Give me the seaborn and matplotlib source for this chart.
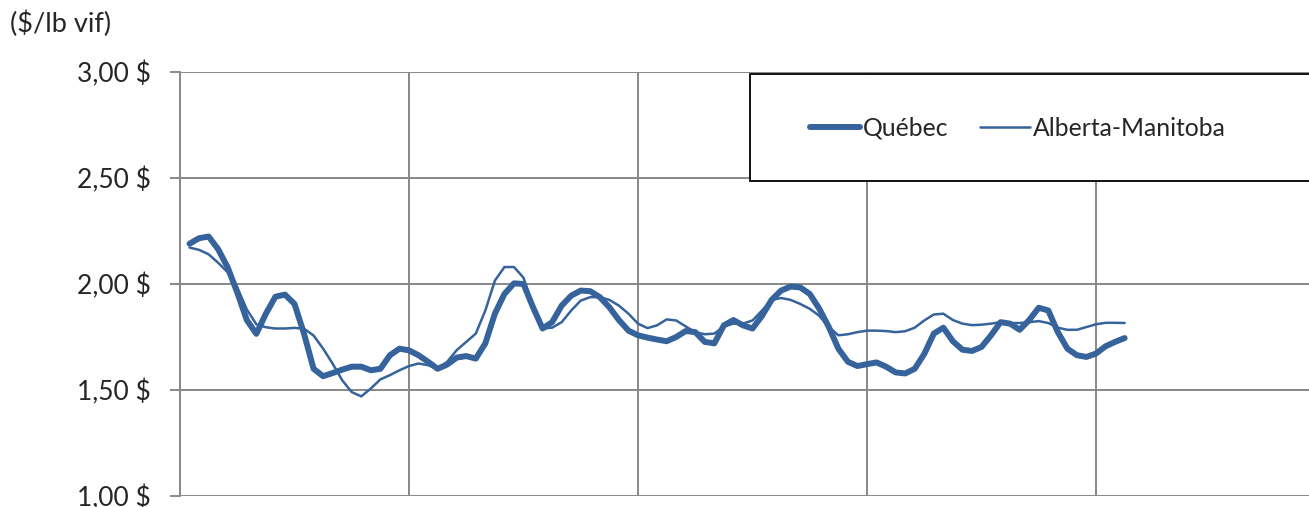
import numpy as np
import pandas as pd
import matplotlib
matplotlib.use("Agg")
import matplotlib.pyplot as plt
from matplotlib.ticker import FuncFormatter
from matplotlib.patches import Rectangle
import seaborn as sns

# positions in months (half-month steps), gridline every 12 months
mois = np.arange(0.5, 50, 0.5)

quebec = [
    2.190, 2.216, 2.224, 2.164, 2.078, 1.960, 1.830, 1.765, 1.860, 1.940,
    1.950, 1.906, 1.765, 1.600, 1.565, 1.580, 1.596, 1.610, 1.610, 1.593,
    1.600, 1.664, 1.695, 1.687, 1.664, 1.633, 1.600, 1.620, 1.653, 1.660,
    1.648, 1.720, 1.860, 1.953, 2.003, 2.000, 1.890, 1.790, 1.820, 1.898,
    1.945, 1.969, 1.966, 1.938, 1.890, 1.830, 1.780, 1.758, 1.747, 1.738,
    1.730, 1.750, 1.778, 1.773, 1.727, 1.720, 1.805, 1.830, 1.805, 1.790,
    1.850, 1.925, 1.969, 1.988, 1.984, 1.953, 1.883, 1.797, 1.695, 1.633,
    1.613, 1.622, 1.630, 1.610, 1.583, 1.578, 1.600, 1.670, 1.766, 1.794,
    1.730, 1.690, 1.684, 1.703, 1.758, 1.820, 1.813, 1.784, 1.830, 1.888,
    1.875, 1.773, 1.695, 1.664, 1.656, 1.672, 1.706, 1.727, 1.745,
]

alberta_manitoba = [
    2.172, 2.161, 2.140, 2.100, 2.055, 1.984, 1.880, 1.810, 1.796, 1.790,
    1.790, 1.793, 1.789, 1.757, 1.695, 1.624, 1.546, 1.490, 1.470, 1.507,
    1.550, 1.570, 1.593, 1.613, 1.625, 1.617, 1.600, 1.633, 1.688, 1.727,
    1.766, 1.875, 2.016, 2.080, 2.080, 2.030, 1.890, 1.790, 1.794, 1.820,
    1.875, 1.922, 1.938, 1.938, 1.925, 1.898, 1.860, 1.813, 1.792, 1.805,
    1.833, 1.828, 1.800, 1.773, 1.763, 1.766, 1.800, 1.813, 1.813, 1.828,
    1.875, 1.925, 1.934, 1.925, 1.906, 1.883, 1.850, 1.797, 1.758, 1.763,
    1.773, 1.780, 1.780, 1.778, 1.773, 1.777, 1.794, 1.828, 1.856, 1.860,
    1.830, 1.813, 1.806, 1.808, 1.813, 1.820, 1.816, 1.816, 1.820, 1.825,
    1.816, 1.794, 1.784, 1.784, 1.797, 1.810, 1.817, 1.817, 1.816,
]

y_ticks = [1.0, 1.5, 2.0, 2.5, 3.0]
x_grid = [0, 12, 24, 36, 48, 60]

sns.set_theme(style="white")
plt.rcParams['font.family'] = ['Lato', 'DejaVu Sans']

bleu = "#36639B"
gris = "#888888"

fig = plt.figure(figsize=(13.09, 5.07), dpi=100)
ax = fig.add_axes([180 / 1309, 11 / 507, 1145 / 1309, 424 / 507])

df = pd.DataFrame({"mois": mois, "Québec": quebec, "Alberta-Manitoba": alberta_manitoba})
sns.lineplot(data=df, x="mois", y="Québec", ax=ax, color=bleu, linewidth=4.3,
             label="Québec", solid_capstyle="round", solid_joinstyle="round")
sns.lineplot(data=df, x="mois", y="Alberta-Manitoba", ax=ax, color=bleu, linewidth=1.8,
             label="Alberta-Manitoba", solid_joinstyle="round")

ax.set_xlim(0, 60)
ax.set_ylim(1.0, 3.0)
ax.set_xticks(x_grid)
ax.set_xticklabels([])
ax.set_yticks(y_ticks)
ax.yaxis.set_major_formatter(FuncFormatter(lambda v, p: f"{v:.2f}".replace(".", ",") + " $"))
ax.set_xlabel("")
ax.set_ylabel("")
ax.grid(True, color=gris, linewidth=1.4)
ax.tick_params(axis="y", left=True, length=7, width=1.4, color=gris, labelsize=19, pad=14)
ax.tick_params(axis="x", bottom=False, length=0)
for s in ax.spines.values():
    s.set_visible(False)
ax.spines["left"].set_visible(True)
ax.spines["left"].set_color(gris)
ax.spines["left"].set_linewidth(1.4)

# legend box extends past the right edge like in the source
box = Rectangle((750 / 1309, (507 - 181) / 507), 600 / 1309, 107 / 507,
                transform=fig.transFigure, facecolor="white",
                edgecolor="black", linewidth=1.3, zorder=5, clip_on=False)
ax.add_patch(box)
leg = ax.legend(loc="center left", bbox_to_anchor=(788 / 1309, (507 - 128) / 507),
                bbox_transform=fig.transFigure, ncol=2, frameon=False, fontsize=17.8,
                handlelength=2.0, handletextpad=0.12, columnspacing=1.3)
leg.set_zorder(6)

fig.text(10 / 1309, 1 - 32 / 507, "($/lb vif)", fontsize=19.5, ha="left", va="baseline")

fig.savefig("out.png", dpi=100)
